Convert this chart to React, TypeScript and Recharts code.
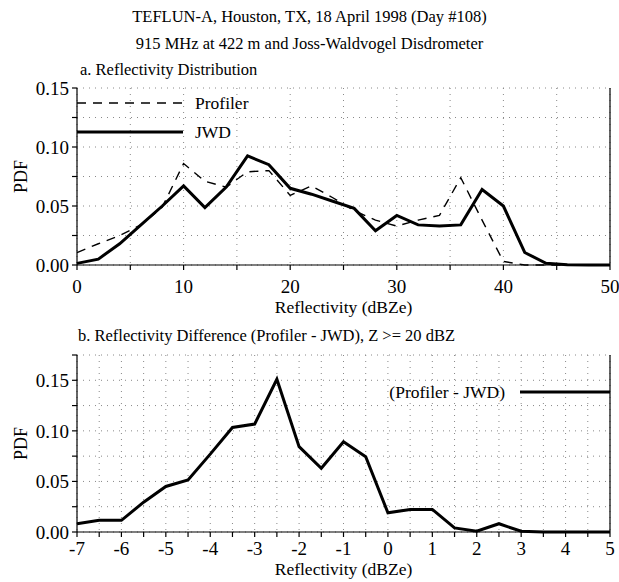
import { CartesianGrid, Legend, Line, LineChart, XAxis, YAxis } from 'recharts'

// panel a: reflectivity bins (dBZe) and PDFs
const refBins = [0, 2, 4, 6, 8, 10, 12, 14, 16, 18, 20, 22, 24, 26, 28, 30, 32, 34, 36, 38, 40, 42, 44, 46, 48, 50]
const profilerPdf = [
  0.0105, 0.018, 0.025, 0.034, 0.049, 0.086, 0.071, 0.066, 0.079, 0.08, 0.059, 0.067, 0.057, 0.046, 0.038, 0.033,
  0.038, 0.042, 0.074, 0.038, 0.003, 0, 0, 0, 0, 0,
]
const jwdPdf = [
  0.0014, 0.005, 0.018, 0.034, 0.05, 0.067, 0.0487, 0.066, 0.0925, 0.085, 0.065, 0.06, 0.054, 0.048, 0.029, 0.042,
  0.034, 0.033, 0.034, 0.064, 0.05, 0.0106, 0.0015, 0.0003, 0, 0,
]

// panel b: reflectivity difference bins and PDF
const diffBins = [-7, -6.5, -6, -5.5, -5, -4.5, -4, -3.5, -3, -2.5, -2, -1.5, -1, -0.5, 0, 0.5, 1, 1.5, 2, 2.5, 3, 3.5, 4, 4.5, 5]
const diffPdf = [
  0.0082, 0.0115, 0.0115, 0.0295, 0.045, 0.0515, 0.077, 0.1034, 0.1067, 0.151, 0.0844, 0.063, 0.0893, 0.0745, 0.019,
  0.0223, 0.0223, 0.004, 0.0007, 0.0082, 0.0007, 0, 0, 0, 0,
]

const topXTicks = [0, 5, 10, 15, 20, 25, 30, 35, 40, 45, 50]
const topYTicks = [0, 0.025, 0.05, 0.075, 0.1, 0.125, 0.15]
const bottomXTicks = [-7, -6.5, -6, -5.5, -5, -4.5, -4, -3.5, -3, -2.5, -2, -1.5, -1, -0.5, 0, 0.5, 1, 1.5, 2, 2.5, 3, 3.5, 4, 4.5, 5]
const bottomYTicks = [0, 0.025, 0.05, 0.075, 0.1, 0.125, 0.15, 0.175]

const FONT = '"Liberation Serif", "Times New Roman", serif'
const axisStroke = { stroke: '#000', strokeWidth: 1.2 }

const topData = refBins.map((x, i) => ({ x, profiler: profilerPdf[i], jwd: jwdPdf[i] }))
const bottomData = diffBins.map((x, i) => ({ x, diff: diffPdf[i] }))

const yFmt = (v: number) => (Math.round(v * 1000) % 50 === 0 ? v.toFixed(2) : '')
const blank = () => ''

function XTick({ x, y, payload, every }: any) {
  const v = payload.value
  const show = every === 10 ? v % 10 === 0 : Number.isInteger(v)
  if (!show) return <g />
  return (
    <text x={x} y={y} dy="0.71em" textAnchor="middle" fontSize={19} fontFamily={FONT} fill="#000">
      {String(v)}
    </text>
  )
}

function YTick({ x, y, payload }: any) {
  const s = yFmt(payload.value)
  if (!s) return <g />
  return (
    <text x={x} y={y} dy="0.36em" textAnchor="end" fontSize={19} fontFamily={FONT} fill="#000">
      {s}
    </text>
  )
}

function PdfLabel({ viewBox }: any) {
  const cx = 21
  const cy = viewBox.y + viewBox.height / 2
  return (
    <text x={cx} y={cy} transform={`rotate(-90, ${cx}, ${cy})`} textAnchor="middle" dominantBaseline="central"
      fontSize={18} fontFamily={FONT} fill="#000">
      PDF
    </text>
  )
}

function XLabel({ viewBox, baseline }: any) {
  return (
    <text x={viewBox.x + viewBox.width / 2} y={viewBox.y + baseline} textAnchor="middle" fontSize={17.5} fontFamily={FONT} fill="#000">
      Reflectivity (dBZe)
    </text>
  )
}

function TopLegend() {
  return (
    <svg width={200} height={50} style={{ overflow: 'visible' }}>
      <line x1={0} x2={106} y1={8} y2={8} stroke="#000" strokeWidth={1.4} strokeDasharray="9 7" />
      <text x={118} y={8} dominantBaseline="central" fontSize={17.5} fontFamily={FONT}>Profiler</text>
      <line x1={0} x2={106} y1={37} y2={37} stroke="#000" strokeWidth={3} />
      <text x={118} y={37} dominantBaseline="central" fontSize={17.5} fontFamily={FONT}>JWD</text>
    </svg>
  )
}

function BottomLegend() {
  return (
    <svg width={240} height={20} style={{ overflow: 'visible' }}>
      <text x={135} y={10} textAnchor="end" dominantBaseline="central" fontSize={17.5} fontFamily={FONT}>(Profiler - JWD)</text>
      <line x1={150} x2={240} y1={10} y2={10} stroke="#000" strokeWidth={3} />
    </svg>
  )
}

const textStyle = (top: number, left?: number): React.CSSProperties => ({
  position: 'absolute',
  top,
  left: left ?? 0,
  width: left === undefined ? 619 : undefined,
  textAlign: left === undefined ? 'center' : 'left',
  fontFamily: FONT,
  fontSize: 16.5,
  lineHeight: '20px',
  whiteSpace: 'nowrap',
  zIndex: 2,
})

export default function App() {
  return (
    <div style={{ position: 'absolute', left: 0, top: 0, width: 619, height: 582, background: '#fff', fontFamily: FONT }}>
      <div style={textStyle(7)}>TEFLUN-A, Houston, TX, 18 April 1998 (Day #108)</div>
      <div style={textStyle(34)}>915 MHz at 422 m and Joss-Waldvogel Disdrometer</div>
      <div style={textStyle(60, 80)}>a. Reflectivity Distribution</div>
      <div style={textStyle(326, 78)}>b. Reflectivity Difference (Profiler - JWD), Z &gt;= 20 dBZ</div>

      <div style={{ position: 'absolute', left: 0, top: 0 }}>
        <LineChart width={619} height={325} data={topData} margin={{ top: 88, right: 0, bottom: 0, left: 0 }}>
          <CartesianGrid stroke="#888" strokeDasharray="1 5" />
          <XAxis dataKey="x" type="number" domain={[0, 50]} ticks={topXTicks} tick={<XTick every={10} />} interval={0}
            tickSize={5} tickMargin={10} axisLine={axisStroke} tickLine={axisStroke} height={60}
            label={<XLabel baseline={48} />} />
          <XAxis xAxisId="t" orientation="top" dataKey="x" type="number" domain={[0, 50]} ticks={topXTicks} tickFormatter={blank}
            interval={0} tickSize={5} axisLine={axisStroke} tickLine={axisStroke} height={0} />
          <YAxis type="number" domain={[0, 0.15]} ticks={topYTicks} tick={<YTick />} interval={0} tickSize={5} tickMargin={3}
            axisLine={axisStroke} tickLine={axisStroke} width={77} label={<PdfLabel />} />
          <YAxis yAxisId="r" orientation="right" type="number" domain={[0, 0.15]} ticks={topYTicks} tickFormatter={blank}
            interval={0} tickSize={5} axisLine={axisStroke} tickLine={axisStroke} width={9} />
          <Legend layout="vertical" verticalAlign="middle" align="center" content={<TopLegend />}
            wrapperStyle={{ position: 'absolute', left: 77, top: 95, width: 200 }} />
          <Line dataKey="profiler" type="linear" stroke="#000" strokeWidth={1.4} strokeDasharray="9 7" dot={false} isAnimationActive={false} />
          <Line dataKey="jwd" type="linear" stroke="#000" strokeWidth={3} dot={false} isAnimationActive={false} />
        </LineChart>
      </div>

      <div style={{ position: 'absolute', left: 0, top: 325 }}>
        <LineChart width={619} height={257} data={bottomData} margin={{ top: 30, right: 0, bottom: 0, left: 0 }}>
          <CartesianGrid stroke="#888" strokeDasharray="1 5" />
          <XAxis dataKey="x" type="number" domain={[-7, 5]} ticks={bottomXTicks} tick={<XTick every={1} />} interval={0}
            tickSize={5} tickMargin={5} axisLine={axisStroke} tickLine={axisStroke} height={50}
            label={<XLabel baseline={43} />} />
          <XAxis xAxisId="t" orientation="top" dataKey="x" type="number" domain={[-7, 5]} ticks={bottomXTicks} tickFormatter={blank}
            interval={0} tickSize={5} axisLine={axisStroke} tickLine={axisStroke} height={0} />
          <YAxis type="number" domain={[0, 0.175]} ticks={bottomYTicks} tick={<YTick />} interval={0} tickSize={5} tickMargin={3}
            axisLine={axisStroke} tickLine={axisStroke} width={77} label={<PdfLabel />} />
          <YAxis yAxisId="r" orientation="right" type="number" domain={[0, 0.175]} ticks={bottomYTicks} tickFormatter={blank}
            interval={0} tickSize={5} axisLine={axisStroke} tickLine={axisStroke} width={9} />
          <Legend layout="vertical" verticalAlign="middle" align="center" content={<BottomLegend />}
            wrapperStyle={{ position: 'absolute', left: 370, top: 57, width: 240 }} />
          <Line dataKey="diff" type="linear" stroke="#000" strokeWidth={3} dot={false} isAnimationActive={false} />
        </LineChart>
      </div>
    </div>
  )
}
